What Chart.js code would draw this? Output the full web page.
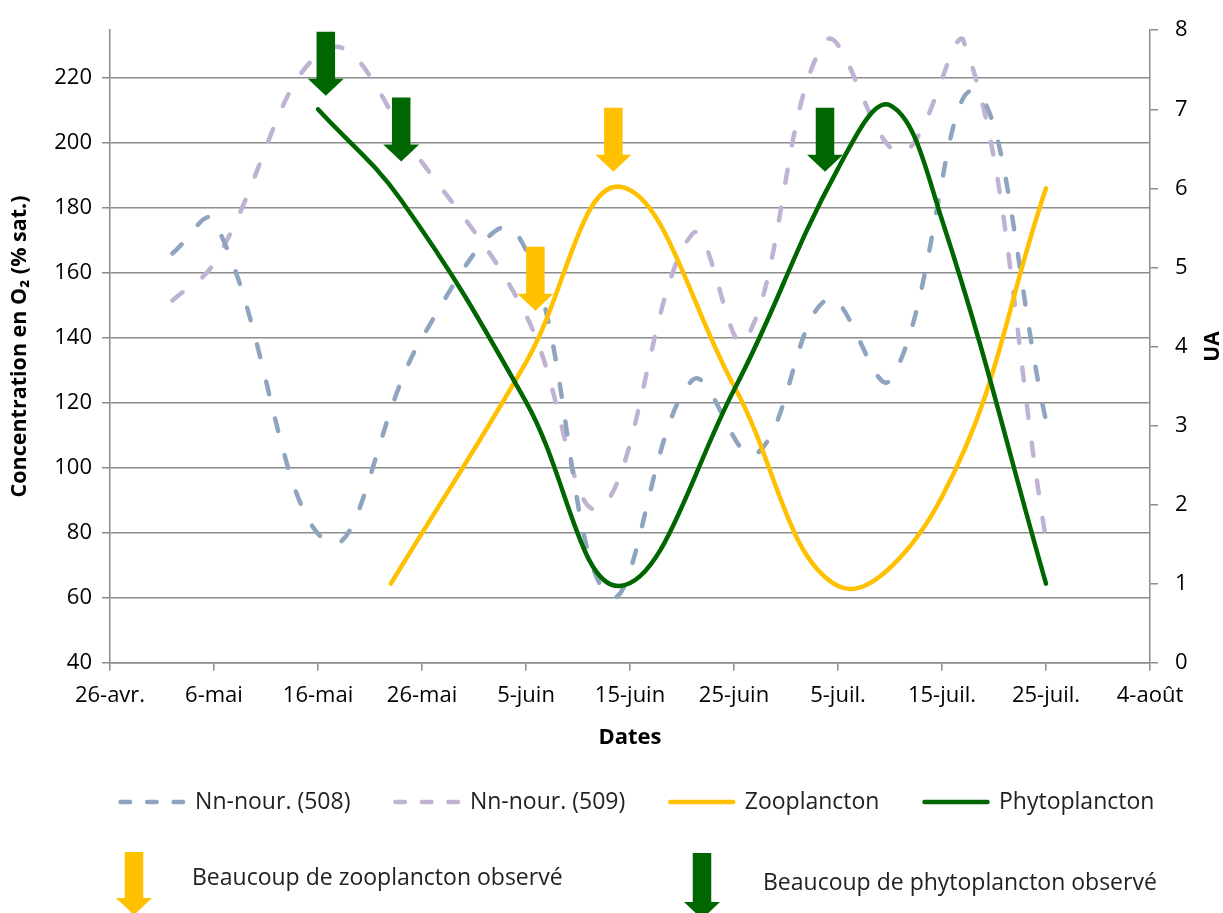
<!DOCTYPE html>
<html>
<head>
<meta charset="utf-8">
<script src="https://cdn.jsdelivr.net/npm/chart.js@4.4.1/dist/chart.umd.min.js"></script>
<style>
  html, body { margin: 0; padding: 0; background: #fff; }
</style>
</head>
<body>
<canvas id="graphe" width="1223" height="913"></canvas>
<script>
// axe des x : jours comptés depuis le 26 avril
var dateLabels = ["26-avr.", "6-mai", "16-mai", "26-mai", "5-juin", "15-juin", "25-juin", "5-juil.", "15-juil.", "25-juil.", "4-août"];

// O2 (% sat.), axe de gauche
var days508 = [6, 10, 21, 30, 39, 48, 56, 62, 69, 75, 83, 90];
var o2_508  = [166, 176, 77, 140, 172.5, 60.5, 127, 104, 152, 127, 216, 114.5];
var days509 = [6, 10, 21, 30, 40, 47, 56, 61, 69, 76, 82, 90];
var o2_509  = [151.5, 163, 229, 194, 147, 87.5, 172, 139, 232, 197, 232, 78];

// UA, axe de droite
var daysZoo = [27, 40, 49, 60, 70, 80, 90];
var zoo     = [1.0, 3.8, 6.02, 3.5, 0.97, 2.1, 6.0];
var daysPhyto = [20, 28, 40, 49, 60, 70, 75, 80, 90];
var phyto     = [7.0, 5.85, 3.3, 0.97, 3.45, 6.25, 7.05, 5.6, 1.0];

// observations (date, pointe de la flèche en UA)
var zooObsDays = [40.9, 48.4];
var zooObsTips = [4.45, 6.21];
var phytoObsDays = [20.75, 28, 68.75];
var phytoObsTips = [7.17, 6.34, 6.21];

var JAUNE = '#ffc000';
var VERT = '#006600';
var GRIS = '#8c8c8c';
var police = "'Open Sans', sans-serif";

function toPoints(xs, ys) {
    return xs.map(function (x, i) { return {x: x, y: ys[i]}; });
}

function fleche(c, x, tipY, h, couleur) {
    var demiTige = 9.25, demiTete = 18, hTete = 17;
    c.save();
    c.fillStyle = couleur;
    c.beginPath();
    c.moveTo(x - demiTige, tipY - h);
    c.lineTo(x + demiTige, tipY - h);
    c.lineTo(x + demiTige, tipY - hTete);
    c.lineTo(x + demiTete, tipY - hTete);
    c.lineTo(x, tipY);
    c.lineTo(x - demiTete, tipY - hTete);
    c.lineTo(x - demiTige, tipY - hTete);
    c.closePath();
    c.fill();
    c.restore();
}

var pluginFleches = {
    id: 'fleches',
    afterDatasetsDraw: function (chart) {
        var c = chart.ctx, sx = chart.scales.x, sy = chart.scales.yUA;
        for (var i = 0; i < zooObsDays.length; i++) {
            fleche(c, sx.getPixelForValue(zooObsDays[i]), sy.getPixelForValue(zooObsTips[i]), 64, JAUNE);
        }
        for (var j = 0; j < phytoObsDays.length; j++) {
            fleche(c, sx.getPixelForValue(phytoObsDays[j]), sy.getPixelForValue(phytoObsTips[j]), 64, VERT);
        }
    },
    afterDraw: function (chart) {
        var c = chart.ctx, a = chart.chartArea;
        var milieu = (a.top + a.bottom) / 2;
        c.save();
        c.fillStyle = '#000';
        c.textAlign = 'center';
        c.textBaseline = 'middle';
        // titres des axes verticaux
        c.font = "bold 21.5px " + police;
        c.translate(20, milieu);
        c.rotate(-Math.PI / 2);
        c.fillText("Concentration en O\u2082 (% sat.)", 0, 0);
        c.setTransform(1, 0, 0, 1, 0, 0);
        c.font = "bold 21px " + police;
        c.translate(1213, milieu);
        c.rotate(-Math.PI / 2);
        c.fillText("UA", 0, 0);
        c.setTransform(1, 0, 0, 1, 0, 0);
        c.restore();

        // légende des flèches
        fleche(c, 134, 915, 63, JAUNE);
        fleche(c, 702, 919, 66, VERT);
        c.save();
        c.fillStyle = '#222';
        c.font = "23px " + police;
        c.textAlign = 'left';
        c.textBaseline = 'middle';
        c.fillText("Beaucoup de zooplancton observé", 192, 878);
        c.fillText("Beaucoup de phytoplancton observé", 763, 883);
        c.restore();
    }
};

var ctx = document.getElementById('graphe');

new Chart(ctx, {
    type: 'line',
    data: {
        datasets: [
            {
                label: 'Nn-nour. (508)',
                data: toPoints(days508, o2_508),
                yAxisID: 'y',
                borderColor: '#8ea4bf',
                borderWidth: 4.5,
                borderDash: [13, 25],
                borderCapStyle: 'round',
                pointRadius: 0,
                tension: 0.4,
                order: 3
            },
            {
                label: 'Nn-nour. (509)',
                data: toPoints(days509, o2_509),
                yAxisID: 'y',
                borderColor: '#bfb2d3',
                borderWidth: 4.5,
                borderDash: [13, 25],
                borderCapStyle: 'round',
                pointRadius: 0,
                tension: 0.4,
                order: 4
            },
            {
                label: 'Zooplancton',
                data: toPoints(daysZoo, zoo),
                yAxisID: 'yUA',
                borderColor: JAUNE,
                borderWidth: 4.5,
                borderCapStyle: 'round',
                pointRadius: 0,
                tension: 0.4,
                order: 2
            },
            {
                label: 'Phytoplancton',
                data: toPoints(daysPhyto, phyto),
                yAxisID: 'yUA',
                borderColor: VERT,
                borderWidth: 4.5,
                borderCapStyle: 'round',
                pointRadius: 0,
                tension: 0.4,
                order: 1
            }
        ]
    },
    options: {
        responsive: false,
        animation: false,
        devicePixelRatio: 1,
        layout: {
            padding: {top: 23.3, left: 52, right: 0, bottom: 89.5}
        },
        scales: {
            x: {
                type: 'linear',
                min: 0,
                max: 100,
                ticks: {
                    stepSize: 10,
                    padding: 12,
                    color: '#000',
                    font: {family: police, size: 22},
                    maxRotation: 0,
                    callback: function (v) { return dateLabels[Math.round(v / 10)]; }
                },
                grid: {drawOnChartArea: false, color: GRIS, lineWidth: 1.5, tickLength: 8},
                border: {color: GRIS, width: 1.5},
                title: {
                    display: true,
                    text: 'Dates',
                    color: '#000',
                    font: {family: police, size: 22, weight: 'bold'},
                    padding: {top: 0, bottom: -5.5}
                },
                afterFit: function (s) { s.height = 82.8; }
            },
            y: {
                position: 'left',
                min: 40,
                max: 234.7,
                ticks: {
                    stepSize: 20,
                    includeBounds: false,
                    padding: 10,
                    color: '#000',
                    font: {family: police, size: 22}
                },
                grid: {color: GRIS, lineWidth: 1.5, tickLength: 8},
                border: {color: GRIS, width: 1.5},
                afterFit: function (s) { s.width = 58; }
            },
            yUA: {
                position: 'right',
                min: 0,
                max: 8,
                ticks: {
                    stepSize: 1,
                    padding: 17,
                    color: '#000',
                    font: {family: police, size: 22}
                },
                grid: {drawOnChartArea: false, color: GRIS, lineWidth: 1.5, tickLength: 8},
                border: {color: GRIS, width: 1.5},
                afterFit: function (s) { s.width = 73; }
            }
        },
        plugins: {
            legend: {
                position: 'bottom',
                labels: {
                    usePointStyle: true,
                    pointStyleWidth: 63,
                    padding: 45,
                    color: '#222',
                    font: {family: police, size: 23},
                    generateLabels: function (chart) {
                        return chart.data.datasets.map(function (ds, i) {
                            return {
                                text: ds.label,
                                datasetIndex: i,
                                pointStyle: 'line',
                                strokeStyle: ds.borderColor,
                                fillStyle: ds.borderColor,
                                lineWidth: ds.borderWidth,
                                lineCap: 'round',
                                lineDash: ds.borderDash ? [9.5, 17] : [],
                                fontColor: '#222',
                                hidden: false
                            };
                        });
                    }
                }
            },
            tooltip: {enabled: false}
        }
    },
    plugins: [pluginFleches]
});
</script>
</body>
</html>
